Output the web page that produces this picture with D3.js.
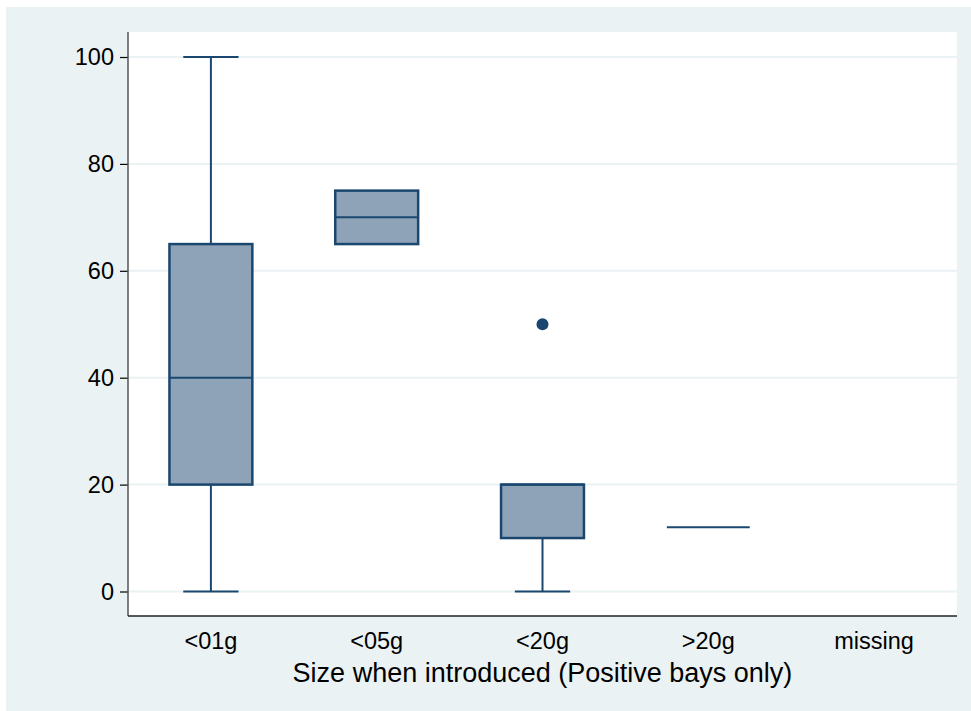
<!DOCTYPE html>
<html>
<head>
<meta charset="utf-8">
<script src="https://cdn.jsdelivr.net/npm/d3@7"></script>
<style>
  html, body { margin: 0; padding: 0; background: #ffffff; }
  svg { display: block; font-family: "Liberation Sans", Arial, Helvetica, sans-serif; }
</style>
</head>
<body>
<svg id="chart" width="971" height="711"></svg>
<script>
// Box-plot summaries by size group
const categories   = ["<01g", "<05g", "<20g", ">20g", "missing"];
const lowerWhisker = [0, 65, 0, 12, null];
const q1           = [20, 65, 10, 12, null];
const median       = [40, 70, 20, 12, null];
const q3           = [65, 75, 20, 12, null];
const upperWhisker = [100, 75, 20, 12, null];
const outlierCats  = ["<20g"];
const outlierVals  = [50];
const yTicks       = [0, 20, 40, 60, 80, 100];
const xTitle       = "Size when introduced (Positive bays only)";

const navy = "#1a476f";
const boxFill = "#8ea3b7";
const bg = "#eaf2f3";

const svg = d3.select("#chart");
const W = 971, H = 711;

// outer graph region
svg.append("rect").attr("x", 6).attr("y", 7).attr("width", W - 6).attr("height", H - 7).attr("fill", bg);

const plot = { left: 128, right: 957, top: 32, bottom: 616 };
svg.append("rect")
  .attr("x", plot.left).attr("y", plot.top)
  .attr("width", plot.right - plot.left).attr("height", plot.bottom - plot.top)
  .attr("fill", "#ffffff");

const x = d3.scaleBand().domain(categories).range([plot.left, plot.right]).padding(0);
const y = d3.scaleLinear().domain([0, 100]).range([591.5, 57]);

// gridlines
svg.append("g").selectAll("line").data(yTicks).join("line")
  .attr("x1", plot.left).attr("x2", plot.right)
  .attr("y1", d => y(d)).attr("y2", d => y(d))
  .attr("stroke", bg).attr("stroke-width", 2);

// y axis
const yAxis = svg.append("g")
  .attr("transform", `translate(${plot.left},0)`)
  .call(d3.axisLeft(y).tickValues(yTicks).tickSize(8).tickPadding(6).tickFormat(d3.format("d")));
yAxis.select(".domain").remove();
yAxis.selectAll(".tick line").attr("stroke", "#000").attr("stroke-width", 1.2);
yAxis.selectAll(".tick text").attr("font-size", 23.5).attr("fill", "#000")
  .attr("font-family", "'Liberation Sans', Arial, sans-serif");
svg.append("line").attr("x1", plot.left).attr("x2", plot.left)
  .attr("y1", plot.top).attr("y2", plot.bottom).attr("stroke", "#555").attr("stroke-width", 1.5);

// x axis
const xAxis = svg.append("g")
  .attr("transform", `translate(0,${plot.bottom})`)
  .call(d3.axisBottom(x).tickSize(0).tickPadding(16));
xAxis.select(".domain").remove();
xAxis.selectAll(".tick text").attr("font-size", 23.5).attr("fill", "#000")
  .attr("font-family", "'Liberation Sans', Arial, sans-serif");
svg.append("line").attr("x1", plot.left).attr("x2", plot.right)
  .attr("y1", plot.bottom).attr("y2", plot.bottom).attr("stroke", "#222").attr("stroke-width", 1.5);

svg.append("text")
  .attr("x", (plot.left + plot.right) / 2).attr("y", 682)
  .attr("text-anchor", "middle").attr("font-size", 27).attr("fill", "#000")
  .text(xTitle);

// boxes
const rows = categories.map((c, i) => ({
  c, lo: lowerWhisker[i], q1: q1[i], med: median[i], q3: q3[i], hi: upperWhisker[i]
})).filter(d => d.q1 !== null);

const bw = x.bandwidth();
const boxW = bw * 0.5;
const capW = bw / 3;
const g = svg.append("g");

rows.forEach(d => {
  const cx = x(d.c) + bw / 2;
  const gg = g.append("g");
  if (d.hi > d.q3) {
    gg.append("line").attr("x1", cx).attr("x2", cx).attr("y1", y(d.q3)).attr("y2", y(d.hi))
      .attr("stroke", navy).attr("stroke-width", 2);
    gg.append("line").attr("x1", cx - capW / 2).attr("x2", cx + capW / 2).attr("y1", y(d.hi)).attr("y2", y(d.hi))
      .attr("stroke", navy).attr("stroke-width", 2);
  }
  if (d.lo < d.q1) {
    gg.append("line").attr("x1", cx).attr("x2", cx).attr("y1", y(d.q1)).attr("y2", y(d.lo))
      .attr("stroke", navy).attr("stroke-width", 2);
    gg.append("line").attr("x1", cx - capW / 2).attr("x2", cx + capW / 2).attr("y1", y(d.lo)).attr("y2", y(d.lo))
      .attr("stroke", navy).attr("stroke-width", 2);
  }
  gg.append("rect")
    .attr("x", cx - boxW / 2).attr("y", y(d.q3))
    .attr("width", boxW).attr("height", y(d.q1) - y(d.q3))
    .attr("fill", boxFill).attr("stroke", navy).attr("stroke-width", 2.5);
  gg.append("line").attr("x1", cx - boxW / 2).attr("x2", cx + boxW / 2)
    .attr("y1", y(d.med)).attr("y2", y(d.med))
    .attr("stroke", navy).attr("stroke-width", 2);
});

// outside values
g.selectAll("circle.out").data(outlierVals.map((v, i) => ({ c: outlierCats[i], v })))
  .join("circle").attr("class", "out")
  .attr("cx", d => x(d.c) + bw / 2).attr("cy", d => y(d.v)).attr("r", 6)
  .attr("fill", navy);
</script>
</body>
</html>
